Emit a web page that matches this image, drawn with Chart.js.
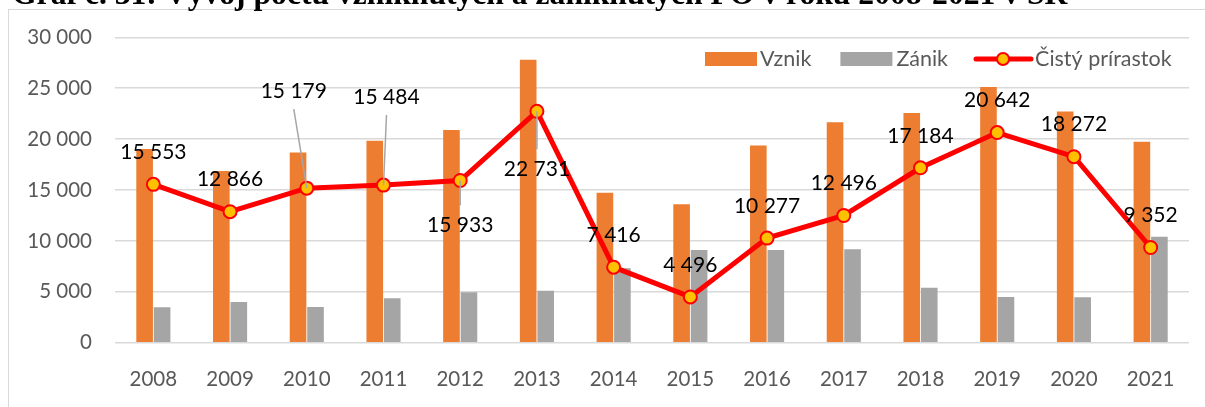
<!DOCTYPE html>
<html>
<head>
<meta charset="utf-8">
<script src="https://cdn.jsdelivr.net/npm/chart.js@4.4.1/dist/chart.umd.min.js"></script>
<style>
  html, body { margin: 0; padding: 0; background: #fff; }
  canvas { display: block; }
</style>
</head>
<body>
<canvas id="chart" width="1205" height="407"></canvas>
<script>
// Graf č. 31 - vznik a zánik PO 2008-2021

const titleText = "Graf č. 31: Vývoj počtu vzniknutých a zaniknutých PO v roku 2008-2021 v SR";

const years = ["2008", "2009", "2010", "2011", "2012", "2013", "2014",
               "2015", "2016", "2017", "2018", "2019", "2020", "2021"];
const vznik = [19030, 16870, 18690, 19840, 20890, 27800, 14720,
               13610, 19380, 21650, 22570, 25110, 22720, 19750];
const zanik = [3480, 4000, 3510, 4360, 4950, 5110, 7310,
               9110, 9110, 9170, 5400, 4490, 4460, 10410];
const prirastok = [15553, 12866, 15179, 15484, 15933, 22731, 7416,
                   4496, 10277, 12496, 17184, 20642, 18272, 9352];
const yMax = 30000;
const yStep = 5000;

const FONT = "Lato";
const ORANGE = "#ed7d31";
const GRAY = "#a5a5a5";
const RED = "#ff0000";
const YELLOW = "#ffc000";

function fmt(v) {
  return String(v).replace(/\B(?=(\d{3})+(?!\d))/g, " ");
}

// label placement for the net line (default: centred above the point)
const labelPlace = {
  2: { dx: -13, dy: -97, leader: true },
  3: { dx: 3, dy: -88, leader: true },
  4: { dx: 0, dy: 45, leader: true },
  5: { dx: 0, dy: 58, leader: true }
};

const framePlugin = {
  id: "frame",
  beforeDraw(chart) {
    const ctx = chart.ctx;
    ctx.save();
    ctx.fillStyle = "#fff";
    ctx.fillRect(0, 0, chart.width, chart.height);
    ctx.strokeStyle = "#d9d9d9";
    ctx.lineWidth = 1;
    ctx.strokeRect(8.5, 9.5, chart.width + 20, chart.height + 20);
    ctx.restore();
  },
  afterDraw(chart) {
    const ctx = chart.ctx;
    ctx.save();
    // title, cut off by the top edge as in the source
    let size = 26;
    ctx.font = `bold ${size}px "Liberation Serif"`;
    size = size * 1056 / ctx.measureText(titleText).width;
    ctx.font = `bold ${size}px "Liberation Serif"`;
    ctx.fillStyle = "#000";
    ctx.textBaseline = "alphabetic";
    ctx.fillText(titleText, 12, 3.5);

    // legend
    ctx.font = `21.5px ${FONT}`;
    ctx.textBaseline = "middle";
    const ly = 59;
    let x = 705;
    ctx.fillStyle = ORANGE;
    ctx.fillRect(x, ly - 7, 52, 14);
    x += 55;
    ctx.fillStyle = "#595959";
    ctx.fillText("Vznik", x, ly);
    x += ctx.measureText("Vznik").width + 29;
    ctx.fillStyle = GRAY;
    ctx.fillRect(x, ly - 7, 52, 14);
    x += 56;
    ctx.fillStyle = "#595959";
    ctx.fillText("Zánik", x, ly);
    x += ctx.measureText("Zánik").width + 28;
    ctx.strokeStyle = RED;
    ctx.lineWidth = 5;
    ctx.lineCap = "round";
    ctx.beginPath();
    ctx.moveTo(x, ly);
    ctx.lineTo(x + 55, ly);
    ctx.stroke();
    ctx.beginPath();
    ctx.arc(x + 27, ly, 6, 0, Math.PI * 2);
    ctx.fillStyle = YELLOW;
    ctx.fill();
    ctx.lineWidth = 2;
    ctx.stroke();
    x += 59;
    ctx.fillStyle = "#595959";
    ctx.fillText("Čistý prírastok", x, ly);
    ctx.restore();
  }
};

const valueLabels = {
  id: "valueLabels",
  afterDatasetsDraw(chart) {
    const ctx = chart.ctx;
    const meta = chart.getDatasetMeta(2);
    ctx.save();
    ctx.font = `21px ${FONT}`;
    ctx.textAlign = "center";
    ctx.textBaseline = "middle";
    meta.data.forEach((pt, i) => {
      const p = labelPlace[i] || { dx: 0, dy: -32 };
      const lx = pt.x + p.dx;
      const ly = pt.y + p.dy;
      if (p.leader) {
        ctx.strokeStyle = "#a6a6a6";
        ctx.lineWidth = 1.5;
        ctx.beginPath();
        ctx.moveTo(pt.x, pt.y);
        ctx.lineTo(lx, p.dy > 0 ? ly - 20 : ly + 18);
        ctx.stroke();
      }
      ctx.fillStyle = "#000";
      ctx.fillText(fmt(prirastok[i]), lx, ly);
    });
    ctx.restore();
  }
};

new Chart(document.getElementById("chart"), {
  type: "bar",
  data: {
    labels: years,
    datasets: [
      {
        label: "Vznik",
        data: vznik,
        backgroundColor: ORANGE,
        order: 1,
        categoryPercentage: 0.456,
        barPercentage: 0.95
      },
      {
        label: "Zánik",
        data: zanik,
        backgroundColor: GRAY,
        order: 1,
        categoryPercentage: 0.456,
        barPercentage: 0.95
      },
      {
        type: "line",
        label: "Čistý prírastok",
        data: prirastok,
        borderColor: RED,
        borderWidth: 5,
        tension: 0,
        pointRadius: 6.5,
        pointBorderWidth: 2,
        pointBackgroundColor: YELLOW,
        pointBorderColor: RED,
        order: 0
      }
    ]
  },
  options: {
    responsive: false,
    animation: false,
    devicePixelRatio: 1,
    layout: { padding: { top: 37.3, right: 16, left: 0, bottom: 0 } },
    plugins: {
      legend: { display: false },
      tooltip: { enabled: false }
    },
    scales: {
      x: {
        grid: { display: false },
        border: { display: false },
        ticks: {
          color: "#595959",
          font: { family: FONT, size: 20.5 },
          padding: 16,
          maxRotation: 0
        },
        afterFit(s) { s.height = 64.3; }
      },
      y: {
        min: 0,
        max: yMax,
        border: { display: false },
        grid: { color: "#d9d9d9", lineWidth: 1.5, drawTicks: false },
        ticks: {
          stepSize: yStep,
          color: "#595959",
          font: { family: FONT, size: 20.5 },
          padding: 23,
          callback: v => fmt(v)
        },
        afterFit(s) { s.width = 115; }
      }
    }
  },
  plugins: [framePlugin, valueLabels]
});
</script>
</body>
</html>
